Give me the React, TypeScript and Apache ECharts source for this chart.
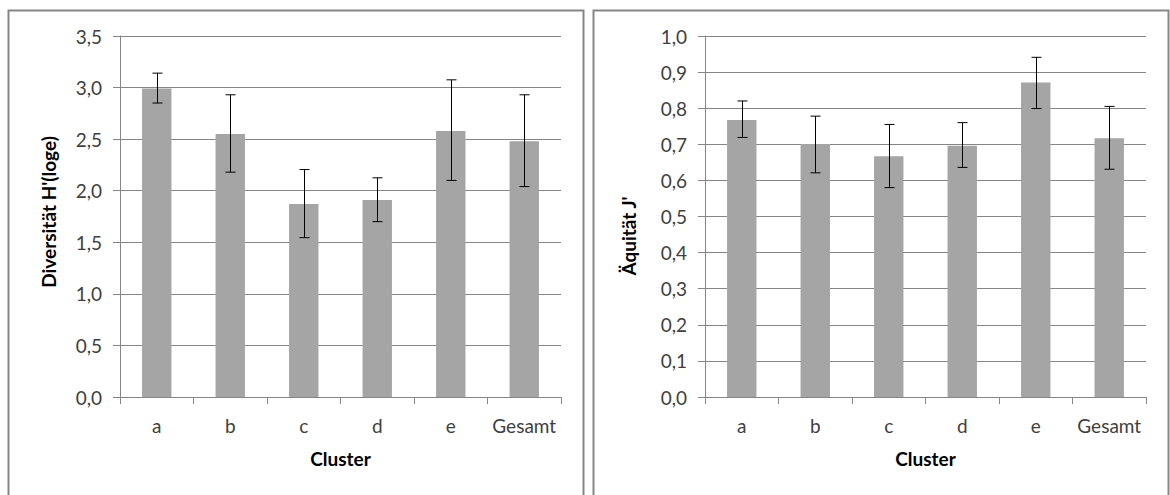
import React, { useEffect, useRef } from "react";
import * as echarts from "echarts";

const categories = ["a", "b", "c", "d", "e", "Gesamt"];
const diversity = [2.99, 2.55, 1.87, 1.91, 2.58, 2.48];
const diversityLow = [2.85, 2.18, 1.545, 1.7, 2.1, 2.04];
const diversityHigh = [3.14, 2.93, 2.205, 2.125, 3.075, 2.93];
const evenness = [0.767, 0.701, 0.667, 0.696, 0.871, 0.717];
const evennessLow = [0.719, 0.621, 0.58, 0.636, 0.799, 0.631];
const evennessHigh = [0.82, 0.778, 0.755, 0.76, 0.941, 0.805];

const FONT = "Lato";
const fmt = (v: number) => v.toFixed(1).replace(".", ",");

function errorSeries(idx: number, low: number[], high: number[]) {
  return {
    type: "custom",
    xAxisIndex: idx,
    yAxisIndex: idx,
    silent: true,
    z: 10,
    data: categories.map((_, i) => [i, low[i], high[i]]),
    renderItem: (params: any, api: any) => {
      const lo = api.coord([api.value(0), api.value(1)]);
      const hi = api.coord([api.value(0), api.value(2)]);
      const x = Math.round(lo[0]) + 0.5;
      const hw = 5;
      const style = { stroke: "#000", lineWidth: 1 };
      return {
        type: "group",
        children: [
          { type: "line", shape: { x1: x, y1: lo[1], x2: x, y2: hi[1] }, style },
          { type: "line", shape: { x1: x - hw, y1: lo[1], x2: x + hw, y2: lo[1] }, style },
          { type: "line", shape: { x1: x - hw, y1: hi[1], x2: x + hw, y2: hi[1] }, style },
        ],
      };
    },
  };
}

export default function App() {
  const ref = useRef<HTMLDivElement>(null);
  useEffect(() => {
    const chart = echarts.init(ref.current!, undefined, { renderer: "svg" });
    const axisLabelStyle = { fontFamily: FONT, fontSize: 19, color: "#404040" };
    const xAxisBase = (gi: number) => ({
      type: "category",
      gridIndex: gi,
      data: categories,
      boundaryGap: true,
      axisLine: { lineStyle: { color: "#868686", width: 1 } },
      axisTick: { show: true, length: 7, lineStyle: { color: "#868686" } },
      axisLabel: { ...axisLabelStyle, margin: 19, interval: 0, hideOverlap: false },
      name: "Cluster",
      nameLocation: "middle",
      nameGap: 52,
      nameTextStyle: { fontFamily: FONT, fontSize: 19, fontWeight: "bold", color: "#000" },
    });
    const yAxisBase = (gi: number, max: number, interval: number) => ({
      type: "value",
      gridIndex: gi,
      min: 0,
      max,
      interval,
      axisLine: { show: true, lineStyle: { color: "#868686", width: 1 } },
      axisTick: { show: true, length: 7, lineStyle: { color: "#868686" } },
      splitLine: { lineStyle: { color: "#868686", width: 1 } },
      axisLabel: { ...axisLabelStyle, margin: 18, formatter: fmt },
    });
    const border = { stroke: "#868686", lineWidth: 2, fill: "none" };
    const titleStyle = {
      fontFamily: FONT,
      fontSize: 19,
      fontWeight: "bold",
      fill: "#000",
      align: "center",
      verticalAlign: "middle",
    };
    chart.setOption({
      animation: false,
      backgroundColor: "#fff",
      grid: [
        { left: 120, right: 609, top: 36, bottom: 98 },
        { left: 705, right: 24, top: 36, bottom: 98 },
      ],
      xAxis: [xAxisBase(0), xAxisBase(1)],
      yAxis: [yAxisBase(0, 3.5, 0.5), yAxisBase(1, 1.0, 0.1)],
      series: [
        {
          type: "bar",
          xAxisIndex: 0,
          yAxisIndex: 0,
          data: diversity,
          barWidth: "40%",
          itemStyle: { color: "#a5a5a5" },
        },
        errorSeries(0, diversityLow, diversityHigh),
        {
          type: "bar",
          xAxisIndex: 1,
          yAxisIndex: 1,
          data: evenness,
          barWidth: "40%",
          itemStyle: { color: "#a5a5a5" },
        },
        errorSeries(1, evennessLow, evennessHigh),
      ],
      graphic: [
        { type: "rect", shape: { x: 8.5, y: 10.5, width: 575, height: 500 }, style: border, silent: true },
        { type: "rect", shape: { x: 593.5, y: 10.5, width: 575, height: 500 }, style: border, silent: true },
        {
          type: "text",
          x: 48,
          y: 212,
          rotation: Math.PI / 2,
          style: { ...titleStyle, text: "Diversität H'(loge)" },
        },
        {
          type: "text",
          x: 628,
          y: 236,
          rotation: Math.PI / 2,
          style: { ...titleStyle, text: "Äquität J'" },
        },
      ],
    });
    return () => chart.dispose();
  }, []);
  return (
    <div
      ref={ref}
      style={{ position: "fixed", left: 0, top: 0, width: 1170, height: 495 }}
    />
  );
}
